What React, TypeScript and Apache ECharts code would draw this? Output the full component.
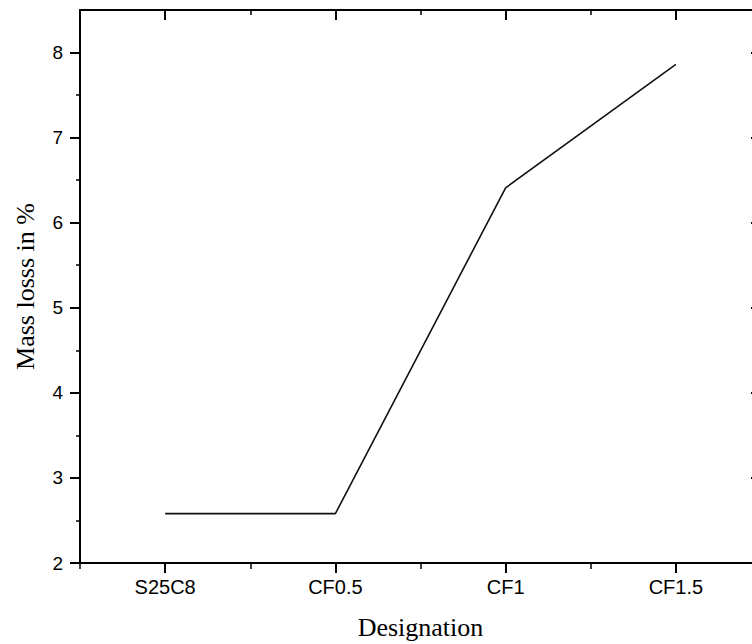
import React, { useEffect, useRef } from "react";
import * as echarts from "echarts";

const categories = ["S25C8", "CF0.5", "CF1", "CF1.5"];
const massLoss = [2.58, 2.58, 6.41, 7.86];
const yMajorTicks = [2, 3, 4, 5, 6, 7, 8];
const yMinorTicks = [2.5, 3.5, 4.5, 5.5, 6.5, 7.5];

const BLACK = "#000";
const SANS = "'Liberation Sans', Arial, sans-serif";
const SERIF = "'Liberation Serif', 'Times New Roman', serif";

export default function App() {
  const ref = useRef<HTMLDivElement>(null);

  useEffect(() => {
    document.body.style.margin = "0";
    if (!ref.current) return;
    const chart = echarts.init(ref.current, undefined, { renderer: "svg" });
    const lineStyle = { color: BLACK, width: 2 };
    chart.setOption({
      animation: false,
      backgroundColor: "#fff",
      grid: { left: 80, top: 10, width: 681, height: 553, containLabel: false, outerBoundsMode: "none" },
      xAxis: [
        {
          type: "category",
          data: categories,
          position: "bottom",
          boundaryGap: true,
          axisLine: { show: true, lineStyle },
          axisTick: { show: true, alignWithLabel: true, length: 10, inside: false, lineStyle: { color: BLACK, width: 2 } },
          axisLabel: { color: BLACK, fontSize: 20, fontFamily: SANS, margin: 14 },
          splitLine: { show: false },
          name: "Designation",
          nameLocation: "middle",
          nameGap: 51,
          nameTextStyle: { color: BLACK, fontSize: 26, fontFamily: SERIF },
        },
        {
          type: "category",
          data: categories,
          position: "bottom",
          boundaryGap: true,
          axisLine: { show: false },
          axisTick: { show: true, alignWithLabel: false, length: 6, inside: false, lineStyle: { color: BLACK, width: 1.5 } },
          axisLabel: { show: false },
          splitLine: { show: false },
        },
        {
          type: "category",
          data: categories,
          position: "top",
          boundaryGap: true,
          axisLine: { show: true, lineStyle },
          axisTick: { show: true, alignWithLabel: true, length: 10, inside: true, lineStyle: { color: BLACK, width: 2 } },
          axisLabel: { show: false },
          splitLine: { show: false },
        },
        {
          type: "category",
          data: categories,
          position: "top",
          boundaryGap: true,
          axisLine: { show: false },
          axisTick: { show: true, alignWithLabel: false, length: 5, inside: true, lineStyle: { color: BLACK, width: 1.5 } },
          axisLabel: { show: false },
          splitLine: { show: false },
        },
      ],
      yAxis: [
        {
          type: "value",
          min: 2,
          max: 8.5,
          position: "left",
          axisLine: { show: true, lineStyle },
          axisTick: { show: true, length: 10, inside: false, customValues: yMajorTicks, lineStyle: { color: BLACK, width: 2 } },
          axisLabel: { color: BLACK, fontSize: 19, fontFamily: SANS, margin: 17, customValues: yMajorTicks },
          splitLine: { show: false },
          name: "Mass losss in %",
          nameLocation: "middle",
          nameGap: 42,
          nameTextStyle: { color: BLACK, fontSize: 26, fontFamily: SERIF },
        },
        {
          type: "value",
          min: 2,
          max: 8.5,
          position: "left",
          axisLine: { show: false },
          axisTick: { show: true, length: 4, inside: false, customValues: yMinorTicks, lineStyle: { color: BLACK, width: 1.5 } },
          axisLabel: { show: false },
          splitLine: { show: false },
        },
        {
          type: "value",
          min: 2,
          max: 8.5,
          position: "right",
          axisLine: { show: true, lineStyle },
          axisTick: { show: true, length: 10, inside: true, customValues: yMajorTicks, lineStyle: { color: BLACK, width: 2 } },
          axisLabel: { show: false },
          splitLine: { show: false },
        },
      ],
      series: [
        {
          type: "line",
          xAxisIndex: 0,
          yAxisIndex: 0,
          data: massLoss,
          symbol: "none",
          lineStyle: { color: "#111", width: 1.6 },
        },
      ],
    });
    return () => chart.dispose();
  }, []);

  return <div ref={ref} style={{ width: 752, height: 644, overflow: "hidden" }} />;
}
